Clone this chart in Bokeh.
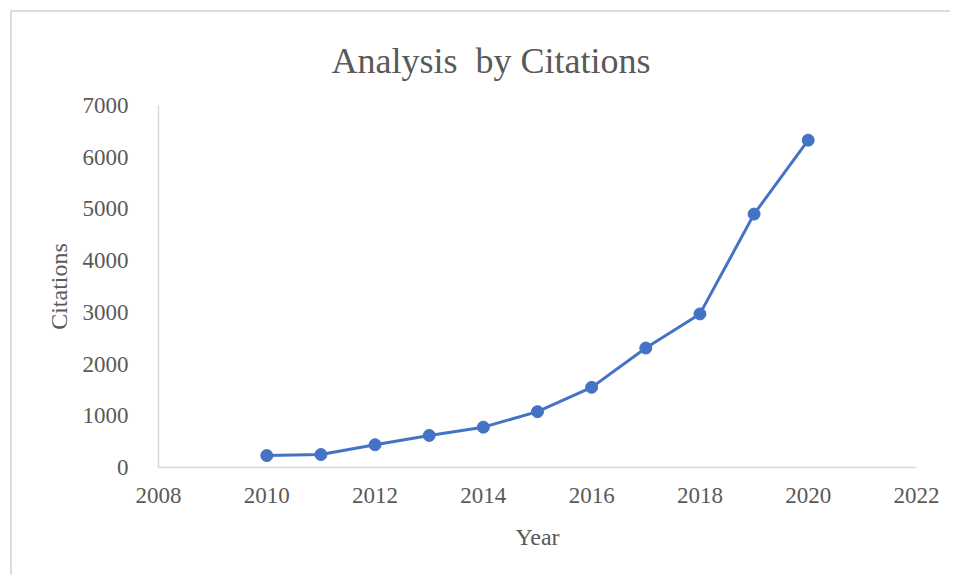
from bokeh.plotting import figure
from bokeh.models import Range1d, FixedTicker
from bokeh.embed import file_html
from bokeh.resources import INLINE

years = [2010, 2011, 2012, 2013, 2014, 2015, 2016, 2017, 2018, 2019, 2020]
citations = [230, 250, 440, 620, 780, 1080, 1550, 2310, 2970, 4900, 6330]
x_ticks = [2008, 2010, 2012, 2014, 2016, 2018, 2020, 2022]
y_ticks = [0, 1000, 2000, 3000, 4000, 5000, 6000, 7000]
chart_title = "Analysis\u00a0 by Citations"

TEXT = "#595959"
FONT = "Liberation Serif"

W, H = 940, 565
p = figure(width=W, height=H, output_backend="svg", toolbar_location=None,
           x_range=Range1d(2008, 2022), y_range=Range1d(0, 7000),
           min_border_left=146, min_border_right=36, min_border_top=93,
           min_border_bottom=110, title=chart_title)
p.styles = {"border-top": "2px solid #dcdcdc", "border-left": "2px solid #dcdcdc",
            "margin-left": "10px", "margin-top": "10px"}
p.outline_line_color = None
p.grid.visible = False

p.title.text_font = FONT
p.title.text_font_size = "36px"
p.title.text_font_style = "normal"
p.title.text_color = TEXT
p.title.align = "left"
p.title.offset = 173
p.title.standoff = 50

p.line(years, citations, line_color="#4472C4", line_width=3)
p.scatter(years, citations, size=12, fill_color="#4472C4", line_color="#4472C4")

for ax in (p.xaxis, p.yaxis):
    ax.major_tick_line_color = None
    ax.minor_tick_line_color = None
    ax.axis_line_color = "#d9d9d9"
    ax.axis_line_width = 1.5
    ax.major_label_text_font = FONT
    ax.major_label_text_font_size = "23px"
    ax.major_label_text_color = TEXT
    ax.axis_label_text_font = FONT
    ax.axis_label_text_font_size = "24px"
    ax.axis_label_text_color = TEXT
    ax.axis_label_text_font_style = "normal"

p.xaxis.ticker = FixedTicker(ticks=x_ticks)
p.yaxis.ticker = FixedTicker(ticks=y_ticks)
p.xaxis.axis_label = "Year"
p.yaxis.axis_label = "Citations"
p.xaxis.major_label_standoff = 14
p.yaxis.major_label_standoff = 24
p.xaxis.axis_label_standoff = 18
p.yaxis.axis_label_standoff = 8

open("out.html", "w").write(file_html(p, INLINE))
